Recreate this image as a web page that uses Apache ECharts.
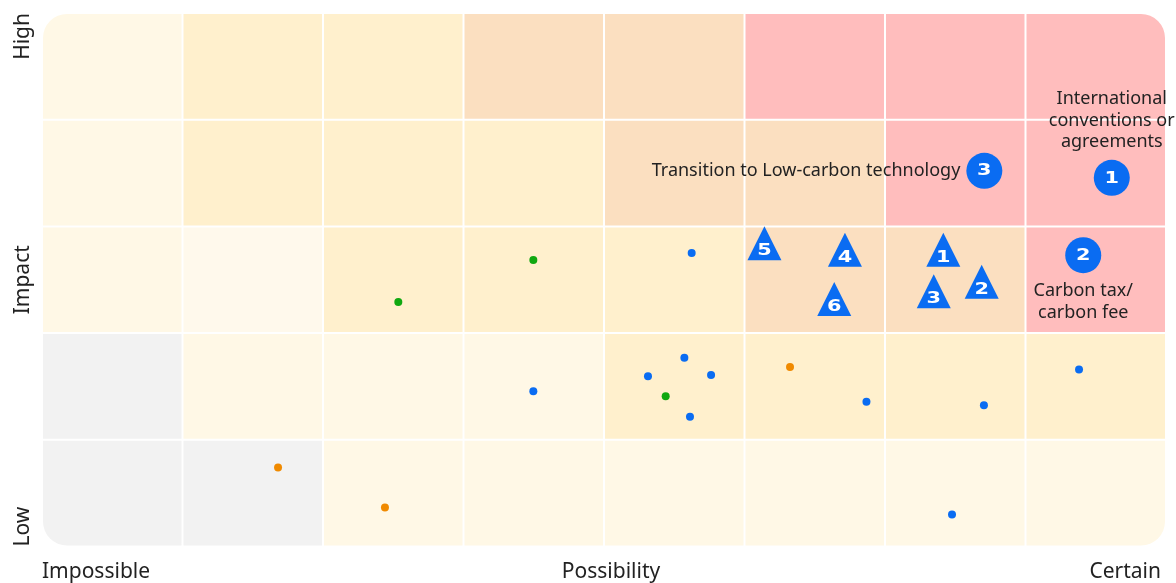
<!DOCTYPE html>
<html><head><meta charset="utf-8">
<script src="https://cdn.jsdelivr.net/npm/echarts@6/dist/echarts.min.js"></script>
<style>html,body{margin:0;padding:0;background:#fff}#c{width:1176px;height:583px}</style>
</head><body><div id="c"></div>
<script>
const xTickLabels = ['Impossible', 'Possibility', 'Certain'];
const yTickLabels = ['Low', 'Impact', 'High'];
const cellPalette = ['#F2F2F2', '#FFF8E6', '#FFF9EC', '#FFF0CD', '#FBDFC0', '#FFBDBD'];
// shade index per cell, bottom row first, 8 columns left to right
const cellRow1 = [0, 0, 1, 1, 1, 1, 1, 1];
const cellRow2 = [0, 1, 1, 1, 3, 3, 3, 3];
const cellRow3 = [1, 2, 3, 3, 3, 4, 4, 5];
const cellRow4 = [1, 3, 3, 3, 4, 4, 5, 5];
const cellRow5 = [1, 3, 3, 4, 4, 5, 5, 5];

const bluePoints = [[4.624, 2.751], [3.497, 1.454], [4.572, 1.770], [4.313, 1.595], [4.762, 1.607], [4.612, 1.217], [5.868, 1.357], [6.704, 1.323], [7.381, 1.658], [6.477, 0.300]];
const greenPoints = [[2.536, 2.292], [3.497, 2.686], [4.439, 1.407]];
const orangePoints = [[5.324, 1.682], [1.680, 0.741], [2.441, 0.366]];
const trianglePoints = [[6.415, 2.780, '1'], [6.688, 2.481, '2'], [6.347, 2.392, '3'], [5.715, 2.780, '4'], [5.142, 2.842, '5'], [5.639, 2.320, '6']];
const circlePoints = [[7.614, 3.455, '1'], [7.411, 2.730, '2'], [6.707, 3.521, '3']];
const circleNotes = ['International\nconventions or\nagreements', 'Carbon tax/\ncarbon fee', 'Transition to Low-carbon technology'];
const notePositions = ['top', 'bottom', 'left'];

const rows = [cellRow1, cellRow2, cellRow3, cellRow4, cellRow5];
const cells = [];
rows.forEach((row, r) => row.forEach((k, c) => cells.push([c, r, k])));
const nCols = cellRow1.length, nRows = rows.length;

const BLUE = '#0A6CF2';
const textFont = 'Noto Sans';
const digitFont = 'bold 16px "DejaVu Sans"';
const axisText = {fontFamily: textFont, fontSize: 21, color: '#222'};

function numberedMarker(kind) {
  return function (params, api) {
    const p = api.coord([api.value(0), api.value(1)]);
    const label = String(api.value(2));
    const shape = kind === 'triangle'
      ? {type: 'polygon', shape: {points: [[p[0], p[1] - 17], [p[0] + 17, p[1] + 17], [p[0] - 17, p[1] + 17]]}, style: {fill: BLUE}}
      : {type: 'circle', shape: {cx: p[0], cy: p[1], r: 18}, style: {fill: BLUE}};
    return {
      type: 'group',
      children: [
        shape,
        {type: 'text', x: p[0], y: p[1] + (kind === 'triangle' ? 8 : 0.5), scaleX: 1.3,
          style: {text: label, fill: '#fff', font: digitFont, align: 'center', verticalAlign: 'middle'}}
      ]
    };
  };
}

const chart = echarts.init(document.getElementById('c'), null, {renderer: 'canvas'});
chart.setOption({
  animation: false,
  grid: {left: 42, right: 10, top: 13, bottom: 36.5},
  xAxis: {
    type: 'value', min: 0, max: nCols, interval: nCols / 2,
    axisLine: {show: false}, axisTick: {show: false}, splitLine: {show: false},
    axisLabel: Object.assign({
      formatter: v => {
        const i = Math.round(v / (nCols / 2));
        return '{' + ['a', 'm', 'c'][i] + '|' + xTickLabels[i] + '}';
      },
      margin: 15, alignMinLabel: 'left', alignMaxLabel: 'right',
      rich: {
        a: Object.assign({}, axisText),
        m: Object.assign({padding: [0, 0, 0, 14]}, axisText),
        c: Object.assign({padding: [0, 5, 0, 0]}, axisText)
      }
    }, axisText)
  },
  yAxis: {
    type: 'value', min: 0, max: nRows, interval: nRows / 2,
    axisLine: {show: false}, axisTick: {show: false}, splitLine: {show: false},
    axisLabel: Object.assign({
      formatter: v => yTickLabels[Math.round(v / (nRows / 2))],
      margin: 8, rotate: 90,
      alignMinLabel: 'left', alignMaxLabel: 'right'
    }, axisText)
  },
  series: [
    {
      type: 'custom', data: cells, encode: {x: 0, y: 1}, z: 1, silent: true,
      renderItem(params, api) {
        const c = api.value(0), r = api.value(1), k = api.value(2);
        const p0 = api.coord([c, r + 1]);
        const p1 = api.coord([c + 1, r]);
        const g = 1, R = 24;
        const top = r === nRows - 1, bot = r === 0, left = c === 0, right = c === nCols - 1;
        return {
          type: 'rect',
          shape: {
            x: p0[0] + g, y: p0[1] + g,
            width: p1[0] - p0[0] - 2 * g, height: p1[1] - p0[1] - 2 * g,
            r: [top && left ? R : 0, top && right ? R : 0, bot && right ? R : 0, bot && left ? R : 0]
          },
          style: {fill: cellPalette[k]}
        };
      }
    },
    {type: 'scatter', data: bluePoints, symbolSize: 8, itemStyle: {color: BLUE, opacity: 1}, z: 3},
    {type: 'scatter', data: greenPoints, symbolSize: 8, itemStyle: {color: '#10A810', opacity: 1}, z: 3},
    {type: 'scatter', data: orangePoints, symbolSize: 8, itemStyle: {color: '#F08A00', opacity: 1}, z: 3},
    {type: 'custom', data: trianglePoints, encode: {x: 0, y: 1}, z: 4, renderItem: numberedMarker('triangle')},
    {type: 'custom', data: circlePoints, encode: {x: 0, y: 1}, z: 4, renderItem: numberedMarker('circle')},
    {
      type: 'scatter', symbolSize: 36, z: 5, silent: true,
      itemStyle: {color: 'rgba(0,0,0,0)', opacity: 1},
      data: circlePoints.map((p, i) => ({
        value: p,
        label: {show: true, position: notePositions[i], distance: i === 2 ? 6 : 7,
          formatter: circleNotes[i], color: '#222', fontFamily: textFont, fontSize: 18,
          lineHeight: 21.5, align: notePositions[i] === 'left' ? 'right' : 'center'}
      }))
    }
  ]
});
</script></body></html>
